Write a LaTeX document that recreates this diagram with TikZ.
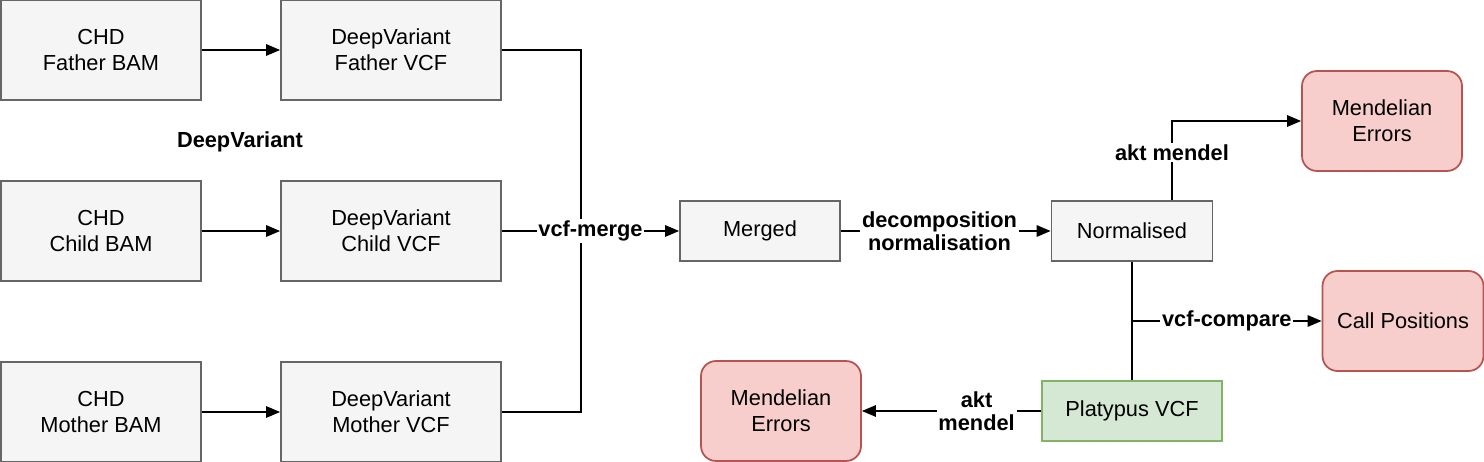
\documentclass[tikz,border=0pt]{standalone}
\usepackage{fontspec}
\setmainfont{Liberation Sans}
\usetikzlibrary{arrows.meta}

\definecolor{greyfill}{HTML}{F5F5F5}
\definecolor{greyline}{HTML}{666666}
\definecolor{redfill}{HTML}{F8CECC}
\definecolor{redline}{HTML}{B85450}
\definecolor{greenfill}{HTML}{D5E8D4}
\definecolor{greenline}{HTML}{82B366}

\begin{document}
\begin{tikzpicture}[x=0.02cm, y=-0.02cm,
    every node/.style={font=\fontsize{12.4}{14.7}\selectfont, align=center},
    filebox/.style={draw=greyline, fill=greyfill, line width=1pt, minimum width=4cm, minimum height=2cm},
    stepbox/.style={filebox, minimum width=3.2cm, minimum height=1.2cm},
    resultbox/.style={draw=redline, fill=redfill, line width=1pt, rounded corners=0.3cm, minimum width=3.2cm, minimum height=2cm},
    link/.style={line width=1pt, -{Triangle[length=8pt, width=6.5pt]}},
    wire/.style={line width=1pt},
    tag/.style={fill=white, inner sep=1pt, font=\fontsize{12.4}{13.2}\selectfont\bfseries}]

    \useasboundingbox (0,0) rectangle (1484,462);

    % inputs and per-sample calls
    \node[filebox] (fbam) at (101,50) {CHD\\Father BAM};
    \node[filebox, minimum width=4.4cm] (fvcf) at (391,50) {DeepVariant\\Father VCF};
    \node[filebox] (cbam) at (101,231) {CHD\\Child BAM};
    \node[filebox, minimum width=4.4cm] (cvcf) at (391,231) {DeepVariant\\Child VCF};
    \node[filebox] (mbam) at (101,412) {CHD\\Mother BAM};
    \node[filebox, minimum width=4.4cm] (mvcf) at (391,412) {DeepVariant\\Mother VCF};
    \node[font=\fontsize{12.4}{14.7}\selectfont\bfseries] (dvtag) at (240,142) {DeepVariant};

    % trio processing
    \node[stepbox] (merged) at (760,231) {Merged};
    \node[stepbox, minimum width=3.22cm] (norm) at (1132,231) {Normalised};
    \node[stepbox, minimum width=3.6cm, draw=greenline, fill=greenfill] (plat) at (1132,411) {Platypus VCF};

    % outputs
    \node[resultbox] (merrtop) at (1382,121) {Mendelian\\Errors};
    \node[resultbox, minimum width=3.22cm] (callpos) at (1403,321) {Call Positions};
    \node[resultbox] (merrbot) at (781,411) {Mendelian\\Errors};

    \draw[link] (fbam) -- (fvcf);
    \draw[link] (cbam) -- (cvcf);
    \draw[link] (mbam) -- (mvcf);

    \coordinate (bus) at (581,231);
    \draw[wire] (fvcf.east) -| (bus) |- (mvcf.east);
    \draw[link] (cvcf) -- node[tag] {vcf-merge} (merged);
    \draw[link] (merged) -- node[tag, pos=0.47] {decomposition\\normalisation} (norm);
    \draw[link] ([xshift=0.8cm]norm.north) |- node[tag, pos=0.3] {akt mendel} (merrtop);

    \draw[wire] (norm) -- (plat);
    \coordinate (tap) at (1132,321);
    \draw[link] (tap) -- node[tag] {vcf-compare} (callpos);
    \draw[link] (plat) -- node[tag, pos=0.36] {akt\\mendel} (merrbot);
\end{tikzpicture}
\end{document}
